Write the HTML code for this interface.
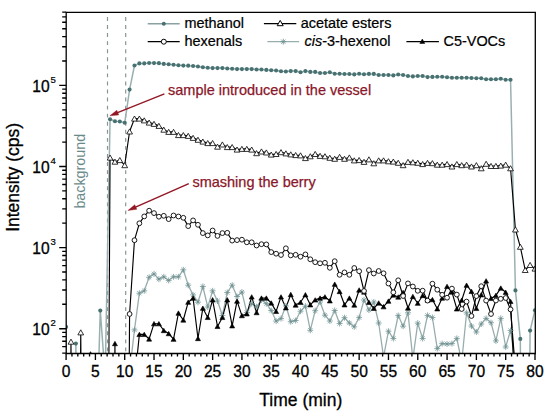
<!DOCTYPE html>
<html><head><meta charset="utf-8"><style>
html,body{margin:0;padding:0;background:#fff;}
body{width:550px;height:414px;overflow:hidden;font-family:"Liberation Sans", sans-serif;}
svg{display:block;}
</style></head><body>
<svg width="550" height="414" viewBox="0 0 550 414">
<defs><clipPath id="pc"><rect x="66.2" y="12.3" width="468.8" height="341.2"/></clipPath></defs>
<g clip-path="url(#pc)"><line x1="107.5" y1="17.0" x2="107.5" y2="353.5" stroke="#8a9494" stroke-width="1.2" stroke-dasharray="3.9 4.16"/>
<line x1="125.7" y1="17.0" x2="125.7" y2="353.5" stroke="#8a9494" stroke-width="1.2" stroke-dasharray="3.9 4.16"/>
<polyline points="66.10,326.90 70.98,1000.00 75.87,343.60 80.75,1000.00 85.64,1000.00 90.52,1000.00 95.40,476.00 100.29,310.60 105.17,376.70 110.06,119.30 114.94,121.20 119.82,121.50 124.71,122.80 129.59,89.60 134.48,65.50 139.36,63.40 144.24,63.40 149.13,63.05 154.01,63.10 158.90,63.15 163.78,63.90 168.66,64.25 173.55,64.80 178.43,65.25 183.32,65.60 188.20,65.65 193.08,66.00 197.97,66.45 202.85,67.20 207.74,67.80 212.62,68.10 217.50,68.10 222.39,68.10 227.27,68.50 232.16,68.80 237.04,69.10 241.92,69.10 246.81,69.10 251.69,69.10 256.58,69.50 261.46,69.50 266.34,69.90 271.23,70.20 276.11,70.50 281.00,71.20 285.88,71.50 290.76,71.10 295.65,71.10 300.53,72.20 305.42,71.10 310.30,71.90 315.18,71.90 320.07,73.00 324.95,73.00 329.84,72.20 334.72,73.70 339.60,73.70 344.49,74.00 349.37,74.00 354.26,74.40 359.14,73.80 364.02,74.20 368.91,73.90 373.79,73.90 378.68,75.00 383.56,75.00 388.44,75.00 393.33,75.40 398.21,74.50 403.10,75.00 407.98,76.00 412.86,76.40 417.75,76.00 422.63,76.00 427.52,77.10 432.40,76.90 437.28,76.70 442.17,76.70 447.05,77.20 451.94,77.70 456.82,77.70 461.70,77.70 466.59,77.70 471.47,78.00 476.36,78.30 481.24,78.30 486.12,79.20 491.01,79.20 495.89,79.20 500.78,78.70 505.66,79.80 510.54,79.80 515.43,290.40 520.31,338.90 525.20,1000.00 530.08,330.60 534.96,310.20" fill="none" stroke="#9ab0b0" stroke-width="1.5" stroke-linejoin="round"/>
<polyline points="129.59,372.00 134.48,329.90 139.36,293.20 144.24,290.80 149.13,277.30 154.01,273.90 158.90,279.20 163.78,276.80 168.66,280.40 173.55,276.80 178.43,276.80 183.32,269.80 188.20,285.20 193.08,294.90 197.97,302.20 202.85,286.50 207.74,307.00 212.62,290.80 217.50,301.00 222.39,315.50 227.27,292.50 232.16,285.20 237.04,296.50 241.92,292.10 246.81,312.60 251.69,303.60 256.58,306.80 261.46,299.90 266.34,303.60 271.23,310.50 276.11,321.10 281.00,318.60 285.88,306.00 290.76,321.70 295.65,320.50 300.53,311.20 305.42,306.20 310.30,330.30 315.18,310.70 320.07,302.00 324.95,315.20 329.84,321.00 334.72,310.50 339.60,323.50 344.49,317.70 349.37,323.00 354.26,326.80 359.14,317.60 364.02,300.00 368.91,310.00 373.79,302.00 378.68,323.00 383.56,357.00 388.44,331.20 393.33,338.50 398.21,315.50 403.10,326.20 407.98,312.80 412.86,359.00 417.75,323.20 422.63,338.50 427.52,315.40 432.40,317.50 437.28,348.60 442.17,343.60 447.05,344.00 451.94,343.60 456.82,338.40 461.70,362.00 466.59,312.80 471.47,326.00 476.36,332.00 481.24,324.00 486.12,318.40 491.01,322.70 495.89,340.90 500.78,318.40 505.66,347.00 510.54,330.50 515.43,365.00" fill="none" stroke="#98adad" stroke-width="1.3" stroke-linejoin="round"/>
<polyline points="85.64,1000.00 90.52,355.50 95.40,1000.00" fill="none" stroke="#000" stroke-width="1.15" stroke-linejoin="round"/>
<polyline points="110.06,1000.00 114.94,343.60 119.82,1000.00" fill="none" stroke="#000" stroke-width="1.15" stroke-linejoin="round"/>
<polyline points="134.48,383.00 139.36,334.40 144.24,334.40 149.13,339.00 154.01,323.70 158.90,323.70 163.78,330.50 168.66,333.60 173.55,339.20 178.43,313.10 183.32,320.00 188.20,302.20 193.08,298.10 197.97,338.50 202.85,308.20 207.74,317.40 212.62,299.80 217.50,326.40 222.39,317.40 227.27,299.80 232.16,325.80 237.04,301.10 241.92,315.60 246.81,313.80 251.69,296.90 256.58,312.60 261.46,298.10 266.34,298.10 271.23,303.00 276.11,311.40 281.00,296.90 285.88,307.80 290.76,294.50 295.65,305.00 300.53,302.30 305.42,294.80 310.30,304.80 315.18,299.90 320.07,298.10 324.95,296.90 329.84,300.80 334.72,284.20 339.60,291.50 344.49,304.80 349.37,298.10 354.26,305.00 359.14,290.00 364.02,292.00 368.91,302.30 373.79,308.30 378.68,303.00 383.56,306.70 388.44,301.10 393.33,295.00 398.21,297.00 403.10,292.50 407.98,308.00 412.86,296.50 417.75,303.20 422.63,295.50 427.52,300.00 432.40,299.60 437.28,308.80 442.17,298.10 447.05,286.40 451.94,292.00 456.82,308.90 461.70,300.20 466.59,285.20 471.47,291.40 476.36,308.40 481.24,294.80 486.12,280.90 491.01,298.40 495.89,295.40 500.78,288.10 505.66,292.30 510.54,301.40 515.43,400.00" fill="none" stroke="#000" stroke-width="1.15" stroke-linejoin="round"/>
<polyline points="66.10,1000.00 70.98,341.70 75.87,1000.00 80.75,332.40 85.64,1000.00 90.52,1000.00 95.40,1000.00 100.29,1000.00 105.17,1000.00 110.06,157.60 114.94,161.70 119.82,160.10 124.71,165.20 129.59,131.50 134.48,118.60 139.36,118.60 144.24,120.40 149.13,122.60 154.01,123.90 158.90,125.90 163.78,129.70 168.66,131.90 173.55,131.90 178.43,135.10 183.32,135.10 188.20,135.90 193.08,137.90 197.97,139.80 202.85,141.60 207.74,143.10 212.62,143.10 217.50,146.70 222.39,144.50 227.27,147.10 232.16,147.10 237.04,149.60 241.92,148.90 246.81,148.90 251.69,149.60 256.58,153.20 261.46,151.50 266.34,152.50 271.23,154.60 276.11,154.00 281.00,152.20 285.88,153.40 290.76,154.40 295.65,155.10 300.53,155.40 305.42,158.10 310.30,156.30 315.18,154.00 320.07,155.90 324.95,156.30 329.84,157.80 334.72,158.80 339.60,156.90 344.49,158.80 349.37,157.50 354.26,160.40 359.14,160.10 364.02,161.90 368.91,159.40 373.79,163.30 378.68,160.40 383.56,160.40 388.44,161.30 393.33,161.60 398.21,162.80 403.10,165.20 407.98,161.90 412.86,162.30 417.75,162.80 422.63,164.10 427.52,162.90 432.40,163.20 437.28,164.70 442.17,164.70 447.05,164.10 451.94,166.50 456.82,164.10 461.70,165.20 466.59,164.70 471.47,166.50 476.36,165.20 481.24,168.30 486.12,163.80 491.01,166.00 495.89,166.00 500.78,165.60 505.66,164.70 510.54,168.30 515.43,229.50 520.31,246.80 525.20,270.00 530.08,265.00 534.96,268.60" fill="none" stroke="#000" stroke-width="1.15" stroke-linejoin="round"/>
<polyline points="124.71,1000.00 129.59,314.00 134.48,240.20 139.36,223.30 144.24,216.40 149.13,210.70 154.01,213.10 158.90,216.70 163.78,215.80 168.66,219.10 173.55,215.50 178.43,216.50 183.32,217.80 188.20,226.10 193.08,220.40 197.97,224.80 202.85,233.10 207.74,235.40 212.62,230.50 217.50,235.90 222.39,233.10 227.27,232.80 232.16,240.60 237.04,240.10 241.92,239.70 246.81,242.30 251.69,242.30 256.58,245.50 261.46,244.20 266.34,244.40 271.23,252.10 276.11,253.70 281.00,255.00 285.88,248.30 290.76,255.40 295.65,254.80 300.53,256.70 305.42,254.40 310.30,259.30 315.18,262.20 320.07,263.30 324.95,262.80 329.84,267.80 334.72,261.20 339.60,274.80 344.49,272.40 349.37,274.80 354.26,268.00 359.14,271.20 364.02,291.00 368.91,270.10 373.79,273.50 378.68,271.00 383.56,273.30 388.44,283.50 393.33,292.30 398.21,280.30 403.10,296.00 407.98,283.40 412.86,286.50 417.75,290.80 422.63,290.70 427.52,300.60 432.40,283.70 437.28,289.70 442.17,294.80 447.05,297.70 451.94,288.60 456.82,294.60 461.70,309.00 466.59,301.60 471.47,316.00 476.36,296.10 481.24,286.20 486.12,300.60 491.01,314.00 495.89,300.50 500.78,298.80 505.66,298.00 510.54,309.40 515.43,370.00" fill="none" stroke="#000" stroke-width="1.15" stroke-linejoin="round"/>
<path d="M90.52,351.66L93.02,356.06L88.02,356.06Z" fill="#000" stroke="#000" stroke-width="0.6" stroke-linejoin="miter"/>
<circle cx="66.10" cy="326.90" r="2.05" fill="#487272"/>
<circle cx="75.87" cy="343.60" r="2.05" fill="#487272"/>
<circle cx="100.29" cy="310.60" r="2.05" fill="#487272"/>
<circle cx="110.06" cy="119.30" r="2.05" fill="#487272"/>
<circle cx="114.94" cy="121.20" r="2.05" fill="#487272"/>
<circle cx="119.82" cy="121.50" r="2.05" fill="#487272"/>
<circle cx="124.71" cy="122.80" r="2.05" fill="#487272"/>
<circle cx="129.59" cy="89.60" r="2.05" fill="#487272"/>
<circle cx="134.48" cy="65.50" r="2.05" fill="#487272"/>
<circle cx="139.36" cy="63.40" r="2.05" fill="#487272"/>
<circle cx="144.24" cy="63.40" r="2.05" fill="#487272"/>
<circle cx="149.13" cy="63.05" r="2.05" fill="#487272"/>
<circle cx="154.01" cy="63.10" r="2.05" fill="#487272"/>
<circle cx="158.90" cy="63.15" r="2.05" fill="#487272"/>
<circle cx="163.78" cy="63.90" r="2.05" fill="#487272"/>
<circle cx="168.66" cy="64.25" r="2.05" fill="#487272"/>
<circle cx="173.55" cy="64.80" r="2.05" fill="#487272"/>
<circle cx="178.43" cy="65.25" r="2.05" fill="#487272"/>
<circle cx="183.32" cy="65.60" r="2.05" fill="#487272"/>
<circle cx="188.20" cy="65.65" r="2.05" fill="#487272"/>
<circle cx="193.08" cy="66.00" r="2.05" fill="#487272"/>
<circle cx="197.97" cy="66.45" r="2.05" fill="#487272"/>
<circle cx="202.85" cy="67.20" r="2.05" fill="#487272"/>
<circle cx="207.74" cy="67.80" r="2.05" fill="#487272"/>
<circle cx="212.62" cy="68.10" r="2.05" fill="#487272"/>
<circle cx="217.50" cy="68.10" r="2.05" fill="#487272"/>
<circle cx="222.39" cy="68.10" r="2.05" fill="#487272"/>
<circle cx="227.27" cy="68.50" r="2.05" fill="#487272"/>
<circle cx="232.16" cy="68.80" r="2.05" fill="#487272"/>
<circle cx="237.04" cy="69.10" r="2.05" fill="#487272"/>
<circle cx="241.92" cy="69.10" r="2.05" fill="#487272"/>
<circle cx="246.81" cy="69.10" r="2.05" fill="#487272"/>
<circle cx="251.69" cy="69.10" r="2.05" fill="#487272"/>
<circle cx="256.58" cy="69.50" r="2.05" fill="#487272"/>
<circle cx="261.46" cy="69.50" r="2.05" fill="#487272"/>
<circle cx="266.34" cy="69.90" r="2.05" fill="#487272"/>
<circle cx="271.23" cy="70.20" r="2.05" fill="#487272"/>
<circle cx="276.11" cy="70.50" r="2.05" fill="#487272"/>
<circle cx="281.00" cy="71.20" r="2.05" fill="#487272"/>
<circle cx="285.88" cy="71.50" r="2.05" fill="#487272"/>
<circle cx="290.76" cy="71.10" r="2.05" fill="#487272"/>
<circle cx="295.65" cy="71.10" r="2.05" fill="#487272"/>
<circle cx="300.53" cy="72.20" r="2.05" fill="#487272"/>
<circle cx="305.42" cy="71.10" r="2.05" fill="#487272"/>
<circle cx="310.30" cy="71.90" r="2.05" fill="#487272"/>
<circle cx="315.18" cy="71.90" r="2.05" fill="#487272"/>
<circle cx="320.07" cy="73.00" r="2.05" fill="#487272"/>
<circle cx="324.95" cy="73.00" r="2.05" fill="#487272"/>
<circle cx="329.84" cy="72.20" r="2.05" fill="#487272"/>
<circle cx="334.72" cy="73.70" r="2.05" fill="#487272"/>
<circle cx="339.60" cy="73.70" r="2.05" fill="#487272"/>
<circle cx="344.49" cy="74.00" r="2.05" fill="#487272"/>
<circle cx="349.37" cy="74.00" r="2.05" fill="#487272"/>
<circle cx="354.26" cy="74.40" r="2.05" fill="#487272"/>
<circle cx="359.14" cy="73.80" r="2.05" fill="#487272"/>
<circle cx="364.02" cy="74.20" r="2.05" fill="#487272"/>
<circle cx="368.91" cy="73.90" r="2.05" fill="#487272"/>
<circle cx="373.79" cy="73.90" r="2.05" fill="#487272"/>
<circle cx="378.68" cy="75.00" r="2.05" fill="#487272"/>
<circle cx="383.56" cy="75.00" r="2.05" fill="#487272"/>
<circle cx="388.44" cy="75.00" r="2.05" fill="#487272"/>
<circle cx="393.33" cy="75.40" r="2.05" fill="#487272"/>
<circle cx="398.21" cy="74.50" r="2.05" fill="#487272"/>
<circle cx="403.10" cy="75.00" r="2.05" fill="#487272"/>
<circle cx="407.98" cy="76.00" r="2.05" fill="#487272"/>
<circle cx="412.86" cy="76.40" r="2.05" fill="#487272"/>
<circle cx="417.75" cy="76.00" r="2.05" fill="#487272"/>
<circle cx="422.63" cy="76.00" r="2.05" fill="#487272"/>
<circle cx="427.52" cy="77.10" r="2.05" fill="#487272"/>
<circle cx="432.40" cy="76.90" r="2.05" fill="#487272"/>
<circle cx="437.28" cy="76.70" r="2.05" fill="#487272"/>
<circle cx="442.17" cy="76.70" r="2.05" fill="#487272"/>
<circle cx="447.05" cy="77.20" r="2.05" fill="#487272"/>
<circle cx="451.94" cy="77.70" r="2.05" fill="#487272"/>
<circle cx="456.82" cy="77.70" r="2.05" fill="#487272"/>
<circle cx="461.70" cy="77.70" r="2.05" fill="#487272"/>
<circle cx="466.59" cy="77.70" r="2.05" fill="#487272"/>
<circle cx="471.47" cy="78.00" r="2.05" fill="#487272"/>
<circle cx="476.36" cy="78.30" r="2.05" fill="#487272"/>
<circle cx="481.24" cy="78.30" r="2.05" fill="#487272"/>
<circle cx="486.12" cy="79.20" r="2.05" fill="#487272"/>
<circle cx="491.01" cy="79.20" r="2.05" fill="#487272"/>
<circle cx="495.89" cy="79.20" r="2.05" fill="#487272"/>
<circle cx="500.78" cy="78.70" r="2.05" fill="#487272"/>
<circle cx="505.66" cy="79.80" r="2.05" fill="#487272"/>
<circle cx="510.54" cy="79.80" r="2.05" fill="#487272"/>
<circle cx="515.43" cy="290.40" r="2.05" fill="#487272"/>
<circle cx="520.31" cy="338.90" r="2.05" fill="#487272"/>
<circle cx="530.08" cy="330.60" r="2.05" fill="#487272"/>
<circle cx="534.96" cy="310.20" r="2.05" fill="#487272"/>
<path d="M131.48,329.90L137.48,329.90M132.35,327.78L136.60,332.02M134.48,326.90L134.48,332.90M136.60,327.78L132.35,332.02" stroke="#6e9090" stroke-width="0.75" fill="none"/>
<path d="M136.36,293.20L142.36,293.20M137.24,291.08L141.48,295.32M139.36,290.20L139.36,296.20M141.48,291.08L137.24,295.32" stroke="#6e9090" stroke-width="0.75" fill="none"/>
<path d="M141.24,290.80L147.24,290.80M142.12,288.68L146.37,292.92M144.24,287.80L144.24,293.80M146.37,288.68L142.12,292.92" stroke="#6e9090" stroke-width="0.75" fill="none"/>
<path d="M146.13,277.30L152.13,277.30M147.01,275.18L151.25,279.42M149.13,274.30L149.13,280.30M151.25,275.18L147.01,279.42" stroke="#6e9090" stroke-width="0.75" fill="none"/>
<path d="M151.01,273.90L157.01,273.90M151.89,271.78L156.13,276.02M154.01,270.90L154.01,276.90M156.13,271.78L151.89,276.02" stroke="#6e9090" stroke-width="0.75" fill="none"/>
<path d="M155.90,279.20L161.90,279.20M156.77,277.08L161.02,281.32M158.90,276.20L158.90,282.20M161.02,277.08L156.77,281.32" stroke="#6e9090" stroke-width="0.75" fill="none"/>
<path d="M160.78,276.80L166.78,276.80M161.66,274.68L165.90,278.92M163.78,273.80L163.78,279.80M165.90,274.68L161.66,278.92" stroke="#6e9090" stroke-width="0.75" fill="none"/>
<path d="M165.66,280.40L171.66,280.40M166.54,278.28L170.79,282.52M168.66,277.40L168.66,283.40M170.79,278.28L166.54,282.52" stroke="#6e9090" stroke-width="0.75" fill="none"/>
<path d="M170.55,276.80L176.55,276.80M171.43,274.68L175.67,278.92M173.55,273.80L173.55,279.80M175.67,274.68L171.43,278.92" stroke="#6e9090" stroke-width="0.75" fill="none"/>
<path d="M175.43,276.80L181.43,276.80M176.31,274.68L180.55,278.92M178.43,273.80L178.43,279.80M180.55,274.68L176.31,278.92" stroke="#6e9090" stroke-width="0.75" fill="none"/>
<path d="M180.32,269.80L186.32,269.80M181.19,267.68L185.44,271.92M183.32,266.80L183.32,272.80M185.44,267.68L181.19,271.92" stroke="#6e9090" stroke-width="0.75" fill="none"/>
<path d="M185.20,285.20L191.20,285.20M186.08,283.08L190.32,287.32M188.20,282.20L188.20,288.20M190.32,283.08L186.08,287.32" stroke="#6e9090" stroke-width="0.75" fill="none"/>
<path d="M190.08,294.90L196.08,294.90M190.96,292.78L195.21,297.02M193.08,291.90L193.08,297.90M195.21,292.78L190.96,297.02" stroke="#6e9090" stroke-width="0.75" fill="none"/>
<path d="M194.97,302.20L200.97,302.20M195.85,300.08L200.09,304.32M197.97,299.20L197.97,305.20M200.09,300.08L195.85,304.32" stroke="#6e9090" stroke-width="0.75" fill="none"/>
<path d="M199.85,286.50L205.85,286.50M200.73,284.38L204.97,288.62M202.85,283.50L202.85,289.50M204.97,284.38L200.73,288.62" stroke="#6e9090" stroke-width="0.75" fill="none"/>
<path d="M204.74,307.00L210.74,307.00M205.61,304.88L209.86,309.12M207.74,304.00L207.74,310.00M209.86,304.88L205.61,309.12" stroke="#6e9090" stroke-width="0.75" fill="none"/>
<path d="M209.62,290.80L215.62,290.80M210.50,288.68L214.74,292.92M212.62,287.80L212.62,293.80M214.74,288.68L210.50,292.92" stroke="#6e9090" stroke-width="0.75" fill="none"/>
<path d="M214.50,301.00L220.50,301.00M215.38,298.88L219.63,303.12M217.50,298.00L217.50,304.00M219.63,298.88L215.38,303.12" stroke="#6e9090" stroke-width="0.75" fill="none"/>
<path d="M219.39,315.50L225.39,315.50M220.27,313.38L224.51,317.62M222.39,312.50L222.39,318.50M224.51,313.38L220.27,317.62" stroke="#6e9090" stroke-width="0.75" fill="none"/>
<path d="M224.27,292.50L230.27,292.50M225.15,290.38L229.39,294.62M227.27,289.50L227.27,295.50M229.39,290.38L225.15,294.62" stroke="#6e9090" stroke-width="0.75" fill="none"/>
<path d="M229.16,285.20L235.16,285.20M230.03,283.08L234.28,287.32M232.16,282.20L232.16,288.20M234.28,283.08L230.03,287.32" stroke="#6e9090" stroke-width="0.75" fill="none"/>
<path d="M234.04,296.50L240.04,296.50M234.92,294.38L239.16,298.62M237.04,293.50L237.04,299.50M239.16,294.38L234.92,298.62" stroke="#6e9090" stroke-width="0.75" fill="none"/>
<path d="M238.92,292.10L244.92,292.10M239.80,289.98L244.05,294.22M241.92,289.10L241.92,295.10M244.05,289.98L239.80,294.22" stroke="#6e9090" stroke-width="0.75" fill="none"/>
<path d="M243.81,312.60L249.81,312.60M244.69,310.48L248.93,314.72M246.81,309.60L246.81,315.60M248.93,310.48L244.69,314.72" stroke="#6e9090" stroke-width="0.75" fill="none"/>
<path d="M248.69,303.60L254.69,303.60M249.57,301.48L253.81,305.72M251.69,300.60L251.69,306.60M253.81,301.48L249.57,305.72" stroke="#6e9090" stroke-width="0.75" fill="none"/>
<path d="M253.58,306.80L259.58,306.80M254.45,304.68L258.70,308.92M256.58,303.80L256.58,309.80M258.70,304.68L254.45,308.92" stroke="#6e9090" stroke-width="0.75" fill="none"/>
<path d="M258.46,299.90L264.46,299.90M259.34,297.78L263.58,302.02M261.46,296.90L261.46,302.90M263.58,297.78L259.34,302.02" stroke="#6e9090" stroke-width="0.75" fill="none"/>
<path d="M263.34,303.60L269.34,303.60M264.22,301.48L268.47,305.72M266.34,300.60L266.34,306.60M268.47,301.48L264.22,305.72" stroke="#6e9090" stroke-width="0.75" fill="none"/>
<path d="M268.23,310.50L274.23,310.50M269.11,308.38L273.35,312.62M271.23,307.50L271.23,313.50M273.35,308.38L269.11,312.62" stroke="#6e9090" stroke-width="0.75" fill="none"/>
<path d="M273.11,321.10L279.11,321.10M273.99,318.98L278.23,323.22M276.11,318.10L276.11,324.10M278.23,318.98L273.99,323.22" stroke="#6e9090" stroke-width="0.75" fill="none"/>
<path d="M278.00,318.60L284.00,318.60M278.87,316.48L283.12,320.72M281.00,315.60L281.00,321.60M283.12,316.48L278.87,320.72" stroke="#6e9090" stroke-width="0.75" fill="none"/>
<path d="M282.88,306.00L288.88,306.00M283.76,303.88L288.00,308.12M285.88,303.00L285.88,309.00M288.00,303.88L283.76,308.12" stroke="#6e9090" stroke-width="0.75" fill="none"/>
<path d="M287.76,321.70L293.76,321.70M288.64,319.58L292.89,323.82M290.76,318.70L290.76,324.70M292.89,319.58L288.64,323.82" stroke="#6e9090" stroke-width="0.75" fill="none"/>
<path d="M292.65,320.50L298.65,320.50M293.53,318.38L297.77,322.62M295.65,317.50L295.65,323.50M297.77,318.38L293.53,322.62" stroke="#6e9090" stroke-width="0.75" fill="none"/>
<path d="M297.53,311.20L303.53,311.20M298.41,309.08L302.65,313.32M300.53,308.20L300.53,314.20M302.65,309.08L298.41,313.32" stroke="#6e9090" stroke-width="0.75" fill="none"/>
<path d="M302.42,306.20L308.42,306.20M303.29,304.08L307.54,308.32M305.42,303.20L305.42,309.20M307.54,304.08L303.29,308.32" stroke="#6e9090" stroke-width="0.75" fill="none"/>
<path d="M307.30,330.30L313.30,330.30M308.18,328.18L312.42,332.42M310.30,327.30L310.30,333.30M312.42,328.18L308.18,332.42" stroke="#6e9090" stroke-width="0.75" fill="none"/>
<path d="M312.18,310.70L318.18,310.70M313.06,308.58L317.31,312.82M315.18,307.70L315.18,313.70M317.31,308.58L313.06,312.82" stroke="#6e9090" stroke-width="0.75" fill="none"/>
<path d="M317.07,302.00L323.07,302.00M317.95,299.88L322.19,304.12M320.07,299.00L320.07,305.00M322.19,299.88L317.95,304.12" stroke="#6e9090" stroke-width="0.75" fill="none"/>
<path d="M321.95,315.20L327.95,315.20M322.83,313.08L327.07,317.32M324.95,312.20L324.95,318.20M327.07,313.08L322.83,317.32" stroke="#6e9090" stroke-width="0.75" fill="none"/>
<path d="M326.84,321.00L332.84,321.00M327.71,318.88L331.96,323.12M329.84,318.00L329.84,324.00M331.96,318.88L327.71,323.12" stroke="#6e9090" stroke-width="0.75" fill="none"/>
<path d="M331.72,310.50L337.72,310.50M332.60,308.38L336.84,312.62M334.72,307.50L334.72,313.50M336.84,308.38L332.60,312.62" stroke="#6e9090" stroke-width="0.75" fill="none"/>
<path d="M336.60,323.50L342.60,323.50M337.48,321.38L341.73,325.62M339.60,320.50L339.60,326.50M341.73,321.38L337.48,325.62" stroke="#6e9090" stroke-width="0.75" fill="none"/>
<path d="M341.49,317.70L347.49,317.70M342.37,315.58L346.61,319.82M344.49,314.70L344.49,320.70M346.61,315.58L342.37,319.82" stroke="#6e9090" stroke-width="0.75" fill="none"/>
<path d="M346.37,323.00L352.37,323.00M347.25,320.88L351.49,325.12M349.37,320.00L349.37,326.00M351.49,320.88L347.25,325.12" stroke="#6e9090" stroke-width="0.75" fill="none"/>
<path d="M351.26,326.80L357.26,326.80M352.13,324.68L356.38,328.92M354.26,323.80L354.26,329.80M356.38,324.68L352.13,328.92" stroke="#6e9090" stroke-width="0.75" fill="none"/>
<path d="M356.14,317.60L362.14,317.60M357.02,315.48L361.26,319.72M359.14,314.60L359.14,320.60M361.26,315.48L357.02,319.72" stroke="#6e9090" stroke-width="0.75" fill="none"/>
<path d="M361.02,300.00L367.02,300.00M361.90,297.88L366.15,302.12M364.02,297.00L364.02,303.00M366.15,297.88L361.90,302.12" stroke="#6e9090" stroke-width="0.75" fill="none"/>
<path d="M365.91,310.00L371.91,310.00M366.79,307.88L371.03,312.12M368.91,307.00L368.91,313.00M371.03,307.88L366.79,312.12" stroke="#6e9090" stroke-width="0.75" fill="none"/>
<path d="M370.79,302.00L376.79,302.00M371.67,299.88L375.91,304.12M373.79,299.00L373.79,305.00M375.91,299.88L371.67,304.12" stroke="#6e9090" stroke-width="0.75" fill="none"/>
<path d="M375.68,323.00L381.68,323.00M376.55,320.88L380.80,325.12M378.68,320.00L378.68,326.00M380.80,320.88L376.55,325.12" stroke="#6e9090" stroke-width="0.75" fill="none"/>
<path d="M380.56,357.00L386.56,357.00M381.44,354.88L385.68,359.12M383.56,354.00L383.56,360.00M385.68,354.88L381.44,359.12" stroke="#6e9090" stroke-width="0.75" fill="none"/>
<path d="M385.44,331.20L391.44,331.20M386.32,329.08L390.57,333.32M388.44,328.20L388.44,334.20M390.57,329.08L386.32,333.32" stroke="#6e9090" stroke-width="0.75" fill="none"/>
<path d="M390.33,338.50L396.33,338.50M391.21,336.38L395.45,340.62M393.33,335.50L393.33,341.50M395.45,336.38L391.21,340.62" stroke="#6e9090" stroke-width="0.75" fill="none"/>
<path d="M395.21,315.50L401.21,315.50M396.09,313.38L400.33,317.62M398.21,312.50L398.21,318.50M400.33,313.38L396.09,317.62" stroke="#6e9090" stroke-width="0.75" fill="none"/>
<path d="M400.10,326.20L406.10,326.20M400.97,324.08L405.22,328.32M403.10,323.20L403.10,329.20M405.22,324.08L400.97,328.32" stroke="#6e9090" stroke-width="0.75" fill="none"/>
<path d="M404.98,312.80L410.98,312.80M405.86,310.68L410.10,314.92M407.98,309.80L407.98,315.80M410.10,310.68L405.86,314.92" stroke="#6e9090" stroke-width="0.75" fill="none"/>
<path d="M414.75,323.20L420.75,323.20M415.63,321.08L419.87,325.32M417.75,320.20L417.75,326.20M419.87,321.08L415.63,325.32" stroke="#6e9090" stroke-width="0.75" fill="none"/>
<path d="M419.63,338.50L425.63,338.50M420.51,336.38L424.75,340.62M422.63,335.50L422.63,341.50M424.75,336.38L420.51,340.62" stroke="#6e9090" stroke-width="0.75" fill="none"/>
<path d="M424.52,315.40L430.52,315.40M425.39,313.28L429.64,317.52M427.52,312.40L427.52,318.40M429.64,313.28L425.39,317.52" stroke="#6e9090" stroke-width="0.75" fill="none"/>
<path d="M429.40,317.50L435.40,317.50M430.28,315.38L434.52,319.62M432.40,314.50L432.40,320.50M434.52,315.38L430.28,319.62" stroke="#6e9090" stroke-width="0.75" fill="none"/>
<path d="M434.28,348.60L440.28,348.60M435.16,346.48L439.41,350.72M437.28,345.60L437.28,351.60M439.41,346.48L435.16,350.72" stroke="#6e9090" stroke-width="0.75" fill="none"/>
<path d="M439.17,343.60L445.17,343.60M440.05,341.48L444.29,345.72M442.17,340.60L442.17,346.60M444.29,341.48L440.05,345.72" stroke="#6e9090" stroke-width="0.75" fill="none"/>
<path d="M444.05,344.00L450.05,344.00M444.93,341.88L449.17,346.12M447.05,341.00L447.05,347.00M449.17,341.88L444.93,346.12" stroke="#6e9090" stroke-width="0.75" fill="none"/>
<path d="M448.94,343.60L454.94,343.60M449.81,341.48L454.06,345.72M451.94,340.60L451.94,346.60M454.06,341.48L449.81,345.72" stroke="#6e9090" stroke-width="0.75" fill="none"/>
<path d="M453.82,338.40L459.82,338.40M454.70,336.28L458.94,340.52M456.82,335.40L456.82,341.40M458.94,336.28L454.70,340.52" stroke="#6e9090" stroke-width="0.75" fill="none"/>
<path d="M463.59,312.80L469.59,312.80M464.47,310.68L468.71,314.92M466.59,309.80L466.59,315.80M468.71,310.68L464.47,314.92" stroke="#6e9090" stroke-width="0.75" fill="none"/>
<path d="M468.47,326.00L474.47,326.00M469.35,323.88L473.59,328.12M471.47,323.00L471.47,329.00M473.59,323.88L469.35,328.12" stroke="#6e9090" stroke-width="0.75" fill="none"/>
<path d="M473.36,332.00L479.36,332.00M474.23,329.88L478.48,334.12M476.36,329.00L476.36,335.00M478.48,329.88L474.23,334.12" stroke="#6e9090" stroke-width="0.75" fill="none"/>
<path d="M478.24,324.00L484.24,324.00M479.12,321.88L483.36,326.12M481.24,321.00L481.24,327.00M483.36,321.88L479.12,326.12" stroke="#6e9090" stroke-width="0.75" fill="none"/>
<path d="M483.12,318.40L489.12,318.40M484.00,316.28L488.25,320.52M486.12,315.40L486.12,321.40M488.25,316.28L484.00,320.52" stroke="#6e9090" stroke-width="0.75" fill="none"/>
<path d="M488.01,322.70L494.01,322.70M488.89,320.58L493.13,324.82M491.01,319.70L491.01,325.70M493.13,320.58L488.89,324.82" stroke="#6e9090" stroke-width="0.75" fill="none"/>
<path d="M492.89,340.90L498.89,340.90M493.77,338.78L498.01,343.02M495.89,337.90L495.89,343.90M498.01,338.78L493.77,343.02" stroke="#6e9090" stroke-width="0.75" fill="none"/>
<path d="M497.78,318.40L503.78,318.40M498.65,316.28L502.90,320.52M500.78,315.40L500.78,321.40M502.90,316.28L498.65,320.52" stroke="#6e9090" stroke-width="0.75" fill="none"/>
<path d="M502.66,347.00L508.66,347.00M503.54,344.88L507.78,349.12M505.66,344.00L505.66,350.00M507.78,344.88L503.54,349.12" stroke="#6e9090" stroke-width="0.75" fill="none"/>
<path d="M507.54,330.50L513.54,330.50M508.42,328.38L512.67,332.62M510.54,327.50L510.54,333.50M512.67,328.38L508.42,332.62" stroke="#6e9090" stroke-width="0.75" fill="none"/>
<path d="M114.94,341.36L117.44,345.76L112.44,345.76Z" fill="#000" stroke="#000" stroke-width="0.6" stroke-linejoin="miter"/>
<path d="M139.36,332.16L141.86,336.56L136.86,336.56Z" fill="#000" stroke="#000" stroke-width="0.6" stroke-linejoin="miter"/>
<path d="M144.24,332.16L146.74,336.56L141.74,336.56Z" fill="#000" stroke="#000" stroke-width="0.6" stroke-linejoin="miter"/>
<path d="M149.13,336.76L151.63,341.16L146.63,341.16Z" fill="#000" stroke="#000" stroke-width="0.6" stroke-linejoin="miter"/>
<path d="M154.01,321.46L156.51,325.86L151.51,325.86Z" fill="#000" stroke="#000" stroke-width="0.6" stroke-linejoin="miter"/>
<path d="M158.90,321.46L161.40,325.86L156.40,325.86Z" fill="#000" stroke="#000" stroke-width="0.6" stroke-linejoin="miter"/>
<path d="M163.78,328.26L166.28,332.66L161.28,332.66Z" fill="#000" stroke="#000" stroke-width="0.6" stroke-linejoin="miter"/>
<path d="M168.66,331.36L171.16,335.76L166.16,335.76Z" fill="#000" stroke="#000" stroke-width="0.6" stroke-linejoin="miter"/>
<path d="M173.55,336.96L176.05,341.36L171.05,341.36Z" fill="#000" stroke="#000" stroke-width="0.6" stroke-linejoin="miter"/>
<path d="M178.43,310.86L180.93,315.26L175.93,315.26Z" fill="#000" stroke="#000" stroke-width="0.6" stroke-linejoin="miter"/>
<path d="M183.32,317.76L185.82,322.16L180.82,322.16Z" fill="#000" stroke="#000" stroke-width="0.6" stroke-linejoin="miter"/>
<path d="M188.20,299.96L190.70,304.36L185.70,304.36Z" fill="#000" stroke="#000" stroke-width="0.6" stroke-linejoin="miter"/>
<path d="M193.08,295.86L195.58,300.26L190.58,300.26Z" fill="#000" stroke="#000" stroke-width="0.6" stroke-linejoin="miter"/>
<path d="M197.97,336.26L200.47,340.66L195.47,340.66Z" fill="#000" stroke="#000" stroke-width="0.6" stroke-linejoin="miter"/>
<path d="M202.85,305.96L205.35,310.36L200.35,310.36Z" fill="#000" stroke="#000" stroke-width="0.6" stroke-linejoin="miter"/>
<path d="M207.74,315.16L210.24,319.56L205.24,319.56Z" fill="#000" stroke="#000" stroke-width="0.6" stroke-linejoin="miter"/>
<path d="M212.62,297.56L215.12,301.96L210.12,301.96Z" fill="#000" stroke="#000" stroke-width="0.6" stroke-linejoin="miter"/>
<path d="M217.50,324.16L220.00,328.56L215.00,328.56Z" fill="#000" stroke="#000" stroke-width="0.6" stroke-linejoin="miter"/>
<path d="M222.39,315.16L224.89,319.56L219.89,319.56Z" fill="#000" stroke="#000" stroke-width="0.6" stroke-linejoin="miter"/>
<path d="M227.27,297.56L229.77,301.96L224.77,301.96Z" fill="#000" stroke="#000" stroke-width="0.6" stroke-linejoin="miter"/>
<path d="M232.16,323.56L234.66,327.96L229.66,327.96Z" fill="#000" stroke="#000" stroke-width="0.6" stroke-linejoin="miter"/>
<path d="M237.04,298.86L239.54,303.26L234.54,303.26Z" fill="#000" stroke="#000" stroke-width="0.6" stroke-linejoin="miter"/>
<path d="M241.92,313.36L244.42,317.76L239.42,317.76Z" fill="#000" stroke="#000" stroke-width="0.6" stroke-linejoin="miter"/>
<path d="M246.81,311.56L249.31,315.96L244.31,315.96Z" fill="#000" stroke="#000" stroke-width="0.6" stroke-linejoin="miter"/>
<path d="M251.69,294.66L254.19,299.06L249.19,299.06Z" fill="#000" stroke="#000" stroke-width="0.6" stroke-linejoin="miter"/>
<path d="M256.58,310.36L259.08,314.76L254.08,314.76Z" fill="#000" stroke="#000" stroke-width="0.6" stroke-linejoin="miter"/>
<path d="M261.46,295.86L263.96,300.26L258.96,300.26Z" fill="#000" stroke="#000" stroke-width="0.6" stroke-linejoin="miter"/>
<path d="M266.34,295.86L268.84,300.26L263.84,300.26Z" fill="#000" stroke="#000" stroke-width="0.6" stroke-linejoin="miter"/>
<path d="M271.23,300.76L273.73,305.16L268.73,305.16Z" fill="#000" stroke="#000" stroke-width="0.6" stroke-linejoin="miter"/>
<path d="M276.11,309.16L278.61,313.56L273.61,313.56Z" fill="#000" stroke="#000" stroke-width="0.6" stroke-linejoin="miter"/>
<path d="M281.00,294.66L283.50,299.06L278.50,299.06Z" fill="#000" stroke="#000" stroke-width="0.6" stroke-linejoin="miter"/>
<path d="M285.88,305.56L288.38,309.96L283.38,309.96Z" fill="#000" stroke="#000" stroke-width="0.6" stroke-linejoin="miter"/>
<path d="M290.76,292.26L293.26,296.66L288.26,296.66Z" fill="#000" stroke="#000" stroke-width="0.6" stroke-linejoin="miter"/>
<path d="M295.65,302.76L298.15,307.16L293.15,307.16Z" fill="#000" stroke="#000" stroke-width="0.6" stroke-linejoin="miter"/>
<path d="M300.53,300.06L303.03,304.46L298.03,304.46Z" fill="#000" stroke="#000" stroke-width="0.6" stroke-linejoin="miter"/>
<path d="M305.42,292.56L307.92,296.96L302.92,296.96Z" fill="#000" stroke="#000" stroke-width="0.6" stroke-linejoin="miter"/>
<path d="M310.30,302.56L312.80,306.96L307.80,306.96Z" fill="#000" stroke="#000" stroke-width="0.6" stroke-linejoin="miter"/>
<path d="M315.18,297.66L317.68,302.06L312.68,302.06Z" fill="#000" stroke="#000" stroke-width="0.6" stroke-linejoin="miter"/>
<path d="M320.07,295.86L322.57,300.26L317.57,300.26Z" fill="#000" stroke="#000" stroke-width="0.6" stroke-linejoin="miter"/>
<path d="M324.95,294.66L327.45,299.06L322.45,299.06Z" fill="#000" stroke="#000" stroke-width="0.6" stroke-linejoin="miter"/>
<path d="M329.84,298.56L332.34,302.96L327.34,302.96Z" fill="#000" stroke="#000" stroke-width="0.6" stroke-linejoin="miter"/>
<path d="M334.72,281.96L337.22,286.36L332.22,286.36Z" fill="#000" stroke="#000" stroke-width="0.6" stroke-linejoin="miter"/>
<path d="M339.60,289.26L342.10,293.66L337.10,293.66Z" fill="#000" stroke="#000" stroke-width="0.6" stroke-linejoin="miter"/>
<path d="M344.49,302.56L346.99,306.96L341.99,306.96Z" fill="#000" stroke="#000" stroke-width="0.6" stroke-linejoin="miter"/>
<path d="M349.37,295.86L351.87,300.26L346.87,300.26Z" fill="#000" stroke="#000" stroke-width="0.6" stroke-linejoin="miter"/>
<path d="M354.26,302.76L356.76,307.16L351.76,307.16Z" fill="#000" stroke="#000" stroke-width="0.6" stroke-linejoin="miter"/>
<path d="M359.14,287.76L361.64,292.16L356.64,292.16Z" fill="#000" stroke="#000" stroke-width="0.6" stroke-linejoin="miter"/>
<path d="M364.02,289.76L366.52,294.16L361.52,294.16Z" fill="#000" stroke="#000" stroke-width="0.6" stroke-linejoin="miter"/>
<path d="M368.91,300.06L371.41,304.46L366.41,304.46Z" fill="#000" stroke="#000" stroke-width="0.6" stroke-linejoin="miter"/>
<path d="M373.79,306.06L376.29,310.46L371.29,310.46Z" fill="#000" stroke="#000" stroke-width="0.6" stroke-linejoin="miter"/>
<path d="M378.68,300.76L381.18,305.16L376.18,305.16Z" fill="#000" stroke="#000" stroke-width="0.6" stroke-linejoin="miter"/>
<path d="M383.56,304.46L386.06,308.86L381.06,308.86Z" fill="#000" stroke="#000" stroke-width="0.6" stroke-linejoin="miter"/>
<path d="M388.44,298.86L390.94,303.26L385.94,303.26Z" fill="#000" stroke="#000" stroke-width="0.6" stroke-linejoin="miter"/>
<path d="M393.33,292.76L395.83,297.16L390.83,297.16Z" fill="#000" stroke="#000" stroke-width="0.6" stroke-linejoin="miter"/>
<path d="M398.21,294.76L400.71,299.16L395.71,299.16Z" fill="#000" stroke="#000" stroke-width="0.6" stroke-linejoin="miter"/>
<path d="M403.10,290.26L405.60,294.66L400.60,294.66Z" fill="#000" stroke="#000" stroke-width="0.6" stroke-linejoin="miter"/>
<path d="M407.98,305.76L410.48,310.16L405.48,310.16Z" fill="#000" stroke="#000" stroke-width="0.6" stroke-linejoin="miter"/>
<path d="M412.86,294.26L415.36,298.66L410.36,298.66Z" fill="#000" stroke="#000" stroke-width="0.6" stroke-linejoin="miter"/>
<path d="M417.75,300.96L420.25,305.36L415.25,305.36Z" fill="#000" stroke="#000" stroke-width="0.6" stroke-linejoin="miter"/>
<path d="M422.63,293.26L425.13,297.66L420.13,297.66Z" fill="#000" stroke="#000" stroke-width="0.6" stroke-linejoin="miter"/>
<path d="M427.52,297.76L430.02,302.16L425.02,302.16Z" fill="#000" stroke="#000" stroke-width="0.6" stroke-linejoin="miter"/>
<path d="M432.40,297.36L434.90,301.76L429.90,301.76Z" fill="#000" stroke="#000" stroke-width="0.6" stroke-linejoin="miter"/>
<path d="M437.28,306.56L439.78,310.96L434.78,310.96Z" fill="#000" stroke="#000" stroke-width="0.6" stroke-linejoin="miter"/>
<path d="M442.17,295.86L444.67,300.26L439.67,300.26Z" fill="#000" stroke="#000" stroke-width="0.6" stroke-linejoin="miter"/>
<path d="M447.05,284.16L449.55,288.56L444.55,288.56Z" fill="#000" stroke="#000" stroke-width="0.6" stroke-linejoin="miter"/>
<path d="M451.94,289.76L454.44,294.16L449.44,294.16Z" fill="#000" stroke="#000" stroke-width="0.6" stroke-linejoin="miter"/>
<path d="M456.82,306.66L459.32,311.06L454.32,311.06Z" fill="#000" stroke="#000" stroke-width="0.6" stroke-linejoin="miter"/>
<path d="M461.70,297.96L464.20,302.36L459.20,302.36Z" fill="#000" stroke="#000" stroke-width="0.6" stroke-linejoin="miter"/>
<path d="M466.59,282.96L469.09,287.36L464.09,287.36Z" fill="#000" stroke="#000" stroke-width="0.6" stroke-linejoin="miter"/>
<path d="M471.47,289.16L473.97,293.56L468.97,293.56Z" fill="#000" stroke="#000" stroke-width="0.6" stroke-linejoin="miter"/>
<path d="M476.36,306.16L478.86,310.56L473.86,310.56Z" fill="#000" stroke="#000" stroke-width="0.6" stroke-linejoin="miter"/>
<path d="M481.24,292.56L483.74,296.96L478.74,296.96Z" fill="#000" stroke="#000" stroke-width="0.6" stroke-linejoin="miter"/>
<path d="M486.12,278.66L488.62,283.06L483.62,283.06Z" fill="#000" stroke="#000" stroke-width="0.6" stroke-linejoin="miter"/>
<path d="M491.01,296.16L493.51,300.56L488.51,300.56Z" fill="#000" stroke="#000" stroke-width="0.6" stroke-linejoin="miter"/>
<path d="M495.89,293.16L498.39,297.56L493.39,297.56Z" fill="#000" stroke="#000" stroke-width="0.6" stroke-linejoin="miter"/>
<path d="M500.78,285.86L503.28,290.26L498.28,290.26Z" fill="#000" stroke="#000" stroke-width="0.6" stroke-linejoin="miter"/>
<path d="M505.66,290.06L508.16,294.46L503.16,294.46Z" fill="#000" stroke="#000" stroke-width="0.6" stroke-linejoin="miter"/>
<path d="M510.54,299.16L513.04,303.56L508.04,303.56Z" fill="#000" stroke="#000" stroke-width="0.6" stroke-linejoin="miter"/>
<path d="M70.98,339.10L73.88,344.20L68.08,344.20Z" fill="#fff" stroke="#111" stroke-width="0.85" stroke-linejoin="miter"/>
<path d="M80.75,329.80L83.65,334.90L77.85,334.90Z" fill="#fff" stroke="#111" stroke-width="0.85" stroke-linejoin="miter"/>
<path d="M110.06,155.00L112.96,160.10L107.16,160.10Z" fill="#fff" stroke="#111" stroke-width="0.85" stroke-linejoin="miter"/>
<path d="M114.94,159.10L117.84,164.20L112.04,164.20Z" fill="#fff" stroke="#111" stroke-width="0.85" stroke-linejoin="miter"/>
<path d="M119.82,157.50L122.72,162.60L116.92,162.60Z" fill="#fff" stroke="#111" stroke-width="0.85" stroke-linejoin="miter"/>
<path d="M124.71,162.60L127.61,167.70L121.81,167.70Z" fill="#fff" stroke="#111" stroke-width="0.85" stroke-linejoin="miter"/>
<path d="M129.59,128.90L132.49,134.00L126.69,134.00Z" fill="#fff" stroke="#111" stroke-width="0.85" stroke-linejoin="miter"/>
<path d="M134.48,116.00L137.38,121.10L131.58,121.10Z" fill="#fff" stroke="#111" stroke-width="0.85" stroke-linejoin="miter"/>
<path d="M139.36,116.00L142.26,121.10L136.46,121.10Z" fill="#fff" stroke="#111" stroke-width="0.85" stroke-linejoin="miter"/>
<path d="M144.24,117.80L147.14,122.90L141.34,122.90Z" fill="#fff" stroke="#111" stroke-width="0.85" stroke-linejoin="miter"/>
<path d="M149.13,120.00L152.03,125.10L146.23,125.10Z" fill="#fff" stroke="#111" stroke-width="0.85" stroke-linejoin="miter"/>
<path d="M154.01,121.30L156.91,126.40L151.11,126.40Z" fill="#fff" stroke="#111" stroke-width="0.85" stroke-linejoin="miter"/>
<path d="M158.90,123.30L161.80,128.40L156.00,128.40Z" fill="#fff" stroke="#111" stroke-width="0.85" stroke-linejoin="miter"/>
<path d="M163.78,127.10L166.68,132.20L160.88,132.20Z" fill="#fff" stroke="#111" stroke-width="0.85" stroke-linejoin="miter"/>
<path d="M168.66,129.30L171.56,134.40L165.76,134.40Z" fill="#fff" stroke="#111" stroke-width="0.85" stroke-linejoin="miter"/>
<path d="M173.55,129.30L176.45,134.40L170.65,134.40Z" fill="#fff" stroke="#111" stroke-width="0.85" stroke-linejoin="miter"/>
<path d="M178.43,132.50L181.33,137.60L175.53,137.60Z" fill="#fff" stroke="#111" stroke-width="0.85" stroke-linejoin="miter"/>
<path d="M183.32,132.50L186.22,137.60L180.42,137.60Z" fill="#fff" stroke="#111" stroke-width="0.85" stroke-linejoin="miter"/>
<path d="M188.20,133.30L191.10,138.40L185.30,138.40Z" fill="#fff" stroke="#111" stroke-width="0.85" stroke-linejoin="miter"/>
<path d="M193.08,135.30L195.98,140.40L190.18,140.40Z" fill="#fff" stroke="#111" stroke-width="0.85" stroke-linejoin="miter"/>
<path d="M197.97,137.20L200.87,142.30L195.07,142.30Z" fill="#fff" stroke="#111" stroke-width="0.85" stroke-linejoin="miter"/>
<path d="M202.85,139.00L205.75,144.10L199.95,144.10Z" fill="#fff" stroke="#111" stroke-width="0.85" stroke-linejoin="miter"/>
<path d="M207.74,140.50L210.64,145.60L204.84,145.60Z" fill="#fff" stroke="#111" stroke-width="0.85" stroke-linejoin="miter"/>
<path d="M212.62,140.50L215.52,145.60L209.72,145.60Z" fill="#fff" stroke="#111" stroke-width="0.85" stroke-linejoin="miter"/>
<path d="M217.50,144.10L220.40,149.20L214.60,149.20Z" fill="#fff" stroke="#111" stroke-width="0.85" stroke-linejoin="miter"/>
<path d="M222.39,141.90L225.29,147.00L219.49,147.00Z" fill="#fff" stroke="#111" stroke-width="0.85" stroke-linejoin="miter"/>
<path d="M227.27,144.50L230.17,149.60L224.37,149.60Z" fill="#fff" stroke="#111" stroke-width="0.85" stroke-linejoin="miter"/>
<path d="M232.16,144.50L235.06,149.60L229.26,149.60Z" fill="#fff" stroke="#111" stroke-width="0.85" stroke-linejoin="miter"/>
<path d="M237.04,147.00L239.94,152.10L234.14,152.10Z" fill="#fff" stroke="#111" stroke-width="0.85" stroke-linejoin="miter"/>
<path d="M241.92,146.30L244.82,151.40L239.02,151.40Z" fill="#fff" stroke="#111" stroke-width="0.85" stroke-linejoin="miter"/>
<path d="M246.81,146.30L249.71,151.40L243.91,151.40Z" fill="#fff" stroke="#111" stroke-width="0.85" stroke-linejoin="miter"/>
<path d="M251.69,147.00L254.59,152.10L248.79,152.10Z" fill="#fff" stroke="#111" stroke-width="0.85" stroke-linejoin="miter"/>
<path d="M256.58,150.60L259.48,155.70L253.68,155.70Z" fill="#fff" stroke="#111" stroke-width="0.85" stroke-linejoin="miter"/>
<path d="M261.46,148.90L264.36,154.00L258.56,154.00Z" fill="#fff" stroke="#111" stroke-width="0.85" stroke-linejoin="miter"/>
<path d="M266.34,149.90L269.24,155.00L263.44,155.00Z" fill="#fff" stroke="#111" stroke-width="0.85" stroke-linejoin="miter"/>
<path d="M271.23,152.00L274.13,157.10L268.33,157.10Z" fill="#fff" stroke="#111" stroke-width="0.85" stroke-linejoin="miter"/>
<path d="M276.11,151.40L279.01,156.50L273.21,156.50Z" fill="#fff" stroke="#111" stroke-width="0.85" stroke-linejoin="miter"/>
<path d="M281.00,149.60L283.90,154.70L278.10,154.70Z" fill="#fff" stroke="#111" stroke-width="0.85" stroke-linejoin="miter"/>
<path d="M285.88,150.80L288.78,155.90L282.98,155.90Z" fill="#fff" stroke="#111" stroke-width="0.85" stroke-linejoin="miter"/>
<path d="M290.76,151.80L293.66,156.90L287.86,156.90Z" fill="#fff" stroke="#111" stroke-width="0.85" stroke-linejoin="miter"/>
<path d="M295.65,152.50L298.55,157.60L292.75,157.60Z" fill="#fff" stroke="#111" stroke-width="0.85" stroke-linejoin="miter"/>
<path d="M300.53,152.80L303.43,157.90L297.63,157.90Z" fill="#fff" stroke="#111" stroke-width="0.85" stroke-linejoin="miter"/>
<path d="M305.42,155.50L308.32,160.60L302.52,160.60Z" fill="#fff" stroke="#111" stroke-width="0.85" stroke-linejoin="miter"/>
<path d="M310.30,153.70L313.20,158.80L307.40,158.80Z" fill="#fff" stroke="#111" stroke-width="0.85" stroke-linejoin="miter"/>
<path d="M315.18,151.40L318.08,156.50L312.28,156.50Z" fill="#fff" stroke="#111" stroke-width="0.85" stroke-linejoin="miter"/>
<path d="M320.07,153.30L322.97,158.40L317.17,158.40Z" fill="#fff" stroke="#111" stroke-width="0.85" stroke-linejoin="miter"/>
<path d="M324.95,153.70L327.85,158.80L322.05,158.80Z" fill="#fff" stroke="#111" stroke-width="0.85" stroke-linejoin="miter"/>
<path d="M329.84,155.20L332.74,160.30L326.94,160.30Z" fill="#fff" stroke="#111" stroke-width="0.85" stroke-linejoin="miter"/>
<path d="M334.72,156.20L337.62,161.30L331.82,161.30Z" fill="#fff" stroke="#111" stroke-width="0.85" stroke-linejoin="miter"/>
<path d="M339.60,154.30L342.50,159.40L336.70,159.40Z" fill="#fff" stroke="#111" stroke-width="0.85" stroke-linejoin="miter"/>
<path d="M344.49,156.20L347.39,161.30L341.59,161.30Z" fill="#fff" stroke="#111" stroke-width="0.85" stroke-linejoin="miter"/>
<path d="M349.37,154.90L352.27,160.00L346.47,160.00Z" fill="#fff" stroke="#111" stroke-width="0.85" stroke-linejoin="miter"/>
<path d="M354.26,157.80L357.16,162.90L351.36,162.90Z" fill="#fff" stroke="#111" stroke-width="0.85" stroke-linejoin="miter"/>
<path d="M359.14,157.50L362.04,162.60L356.24,162.60Z" fill="#fff" stroke="#111" stroke-width="0.85" stroke-linejoin="miter"/>
<path d="M364.02,159.30L366.92,164.40L361.12,164.40Z" fill="#fff" stroke="#111" stroke-width="0.85" stroke-linejoin="miter"/>
<path d="M368.91,156.80L371.81,161.90L366.01,161.90Z" fill="#fff" stroke="#111" stroke-width="0.85" stroke-linejoin="miter"/>
<path d="M373.79,160.70L376.69,165.80L370.89,165.80Z" fill="#fff" stroke="#111" stroke-width="0.85" stroke-linejoin="miter"/>
<path d="M378.68,157.80L381.58,162.90L375.78,162.90Z" fill="#fff" stroke="#111" stroke-width="0.85" stroke-linejoin="miter"/>
<path d="M383.56,157.80L386.46,162.90L380.66,162.90Z" fill="#fff" stroke="#111" stroke-width="0.85" stroke-linejoin="miter"/>
<path d="M388.44,158.70L391.34,163.80L385.54,163.80Z" fill="#fff" stroke="#111" stroke-width="0.85" stroke-linejoin="miter"/>
<path d="M393.33,159.00L396.23,164.10L390.43,164.10Z" fill="#fff" stroke="#111" stroke-width="0.85" stroke-linejoin="miter"/>
<path d="M398.21,160.20L401.11,165.30L395.31,165.30Z" fill="#fff" stroke="#111" stroke-width="0.85" stroke-linejoin="miter"/>
<path d="M403.10,162.60L406.00,167.70L400.20,167.70Z" fill="#fff" stroke="#111" stroke-width="0.85" stroke-linejoin="miter"/>
<path d="M407.98,159.30L410.88,164.40L405.08,164.40Z" fill="#fff" stroke="#111" stroke-width="0.85" stroke-linejoin="miter"/>
<path d="M412.86,159.70L415.76,164.80L409.96,164.80Z" fill="#fff" stroke="#111" stroke-width="0.85" stroke-linejoin="miter"/>
<path d="M417.75,160.20L420.65,165.30L414.85,165.30Z" fill="#fff" stroke="#111" stroke-width="0.85" stroke-linejoin="miter"/>
<path d="M422.63,161.50L425.53,166.60L419.73,166.60Z" fill="#fff" stroke="#111" stroke-width="0.85" stroke-linejoin="miter"/>
<path d="M427.52,160.30L430.42,165.40L424.62,165.40Z" fill="#fff" stroke="#111" stroke-width="0.85" stroke-linejoin="miter"/>
<path d="M432.40,160.60L435.30,165.70L429.50,165.70Z" fill="#fff" stroke="#111" stroke-width="0.85" stroke-linejoin="miter"/>
<path d="M437.28,162.10L440.18,167.20L434.38,167.20Z" fill="#fff" stroke="#111" stroke-width="0.85" stroke-linejoin="miter"/>
<path d="M442.17,162.10L445.07,167.20L439.27,167.20Z" fill="#fff" stroke="#111" stroke-width="0.85" stroke-linejoin="miter"/>
<path d="M447.05,161.50L449.95,166.60L444.15,166.60Z" fill="#fff" stroke="#111" stroke-width="0.85" stroke-linejoin="miter"/>
<path d="M451.94,163.90L454.84,169.00L449.04,169.00Z" fill="#fff" stroke="#111" stroke-width="0.85" stroke-linejoin="miter"/>
<path d="M456.82,161.50L459.72,166.60L453.92,166.60Z" fill="#fff" stroke="#111" stroke-width="0.85" stroke-linejoin="miter"/>
<path d="M461.70,162.60L464.60,167.70L458.80,167.70Z" fill="#fff" stroke="#111" stroke-width="0.85" stroke-linejoin="miter"/>
<path d="M466.59,162.10L469.49,167.20L463.69,167.20Z" fill="#fff" stroke="#111" stroke-width="0.85" stroke-linejoin="miter"/>
<path d="M471.47,163.90L474.37,169.00L468.57,169.00Z" fill="#fff" stroke="#111" stroke-width="0.85" stroke-linejoin="miter"/>
<path d="M476.36,162.60L479.26,167.70L473.46,167.70Z" fill="#fff" stroke="#111" stroke-width="0.85" stroke-linejoin="miter"/>
<path d="M481.24,165.70L484.14,170.80L478.34,170.80Z" fill="#fff" stroke="#111" stroke-width="0.85" stroke-linejoin="miter"/>
<path d="M486.12,161.20L489.02,166.30L483.22,166.30Z" fill="#fff" stroke="#111" stroke-width="0.85" stroke-linejoin="miter"/>
<path d="M491.01,163.40L493.91,168.50L488.11,168.50Z" fill="#fff" stroke="#111" stroke-width="0.85" stroke-linejoin="miter"/>
<path d="M495.89,163.40L498.79,168.50L492.99,168.50Z" fill="#fff" stroke="#111" stroke-width="0.85" stroke-linejoin="miter"/>
<path d="M500.78,163.00L503.68,168.10L497.88,168.10Z" fill="#fff" stroke="#111" stroke-width="0.85" stroke-linejoin="miter"/>
<path d="M505.66,162.10L508.56,167.20L502.76,167.20Z" fill="#fff" stroke="#111" stroke-width="0.85" stroke-linejoin="miter"/>
<path d="M510.54,165.70L513.44,170.80L507.64,170.80Z" fill="#fff" stroke="#111" stroke-width="0.85" stroke-linejoin="miter"/>
<path d="M515.43,226.90L518.33,232.00L512.53,232.00Z" fill="#fff" stroke="#111" stroke-width="0.85" stroke-linejoin="miter"/>
<path d="M520.31,244.20L523.21,249.30L517.41,249.30Z" fill="#fff" stroke="#111" stroke-width="0.85" stroke-linejoin="miter"/>
<path d="M525.20,267.40L528.10,272.50L522.30,272.50Z" fill="#fff" stroke="#111" stroke-width="0.85" stroke-linejoin="miter"/>
<path d="M530.08,262.40L532.98,267.50L527.18,267.50Z" fill="#fff" stroke="#111" stroke-width="0.85" stroke-linejoin="miter"/>
<path d="M534.96,266.00L537.86,271.10L532.06,271.10Z" fill="#fff" stroke="#111" stroke-width="0.85" stroke-linejoin="miter"/>
<circle cx="129.59" cy="314.00" r="2.4" fill="#fff" stroke="#111" stroke-width="0.95"/>
<circle cx="134.48" cy="240.20" r="2.4" fill="#fff" stroke="#111" stroke-width="0.95"/>
<circle cx="139.36" cy="223.30" r="2.4" fill="#fff" stroke="#111" stroke-width="0.95"/>
<circle cx="144.24" cy="216.40" r="2.4" fill="#fff" stroke="#111" stroke-width="0.95"/>
<circle cx="149.13" cy="210.70" r="2.4" fill="#fff" stroke="#111" stroke-width="0.95"/>
<circle cx="154.01" cy="213.10" r="2.4" fill="#fff" stroke="#111" stroke-width="0.95"/>
<circle cx="158.90" cy="216.70" r="2.4" fill="#fff" stroke="#111" stroke-width="0.95"/>
<circle cx="163.78" cy="215.80" r="2.4" fill="#fff" stroke="#111" stroke-width="0.95"/>
<circle cx="168.66" cy="219.10" r="2.4" fill="#fff" stroke="#111" stroke-width="0.95"/>
<circle cx="173.55" cy="215.50" r="2.4" fill="#fff" stroke="#111" stroke-width="0.95"/>
<circle cx="178.43" cy="216.50" r="2.4" fill="#fff" stroke="#111" stroke-width="0.95"/>
<circle cx="183.32" cy="217.80" r="2.4" fill="#fff" stroke="#111" stroke-width="0.95"/>
<circle cx="188.20" cy="226.10" r="2.4" fill="#fff" stroke="#111" stroke-width="0.95"/>
<circle cx="193.08" cy="220.40" r="2.4" fill="#fff" stroke="#111" stroke-width="0.95"/>
<circle cx="197.97" cy="224.80" r="2.4" fill="#fff" stroke="#111" stroke-width="0.95"/>
<circle cx="202.85" cy="233.10" r="2.4" fill="#fff" stroke="#111" stroke-width="0.95"/>
<circle cx="207.74" cy="235.40" r="2.4" fill="#fff" stroke="#111" stroke-width="0.95"/>
<circle cx="212.62" cy="230.50" r="2.4" fill="#fff" stroke="#111" stroke-width="0.95"/>
<circle cx="217.50" cy="235.90" r="2.4" fill="#fff" stroke="#111" stroke-width="0.95"/>
<circle cx="222.39" cy="233.10" r="2.4" fill="#fff" stroke="#111" stroke-width="0.95"/>
<circle cx="227.27" cy="232.80" r="2.4" fill="#fff" stroke="#111" stroke-width="0.95"/>
<circle cx="232.16" cy="240.60" r="2.4" fill="#fff" stroke="#111" stroke-width="0.95"/>
<circle cx="237.04" cy="240.10" r="2.4" fill="#fff" stroke="#111" stroke-width="0.95"/>
<circle cx="241.92" cy="239.70" r="2.4" fill="#fff" stroke="#111" stroke-width="0.95"/>
<circle cx="246.81" cy="242.30" r="2.4" fill="#fff" stroke="#111" stroke-width="0.95"/>
<circle cx="251.69" cy="242.30" r="2.4" fill="#fff" stroke="#111" stroke-width="0.95"/>
<circle cx="256.58" cy="245.50" r="2.4" fill="#fff" stroke="#111" stroke-width="0.95"/>
<circle cx="261.46" cy="244.20" r="2.4" fill="#fff" stroke="#111" stroke-width="0.95"/>
<circle cx="266.34" cy="244.40" r="2.4" fill="#fff" stroke="#111" stroke-width="0.95"/>
<circle cx="271.23" cy="252.10" r="2.4" fill="#fff" stroke="#111" stroke-width="0.95"/>
<circle cx="276.11" cy="253.70" r="2.4" fill="#fff" stroke="#111" stroke-width="0.95"/>
<circle cx="281.00" cy="255.00" r="2.4" fill="#fff" stroke="#111" stroke-width="0.95"/>
<circle cx="285.88" cy="248.30" r="2.4" fill="#fff" stroke="#111" stroke-width="0.95"/>
<circle cx="290.76" cy="255.40" r="2.4" fill="#fff" stroke="#111" stroke-width="0.95"/>
<circle cx="295.65" cy="254.80" r="2.4" fill="#fff" stroke="#111" stroke-width="0.95"/>
<circle cx="300.53" cy="256.70" r="2.4" fill="#fff" stroke="#111" stroke-width="0.95"/>
<circle cx="305.42" cy="254.40" r="2.4" fill="#fff" stroke="#111" stroke-width="0.95"/>
<circle cx="310.30" cy="259.30" r="2.4" fill="#fff" stroke="#111" stroke-width="0.95"/>
<circle cx="315.18" cy="262.20" r="2.4" fill="#fff" stroke="#111" stroke-width="0.95"/>
<circle cx="320.07" cy="263.30" r="2.4" fill="#fff" stroke="#111" stroke-width="0.95"/>
<circle cx="324.95" cy="262.80" r="2.4" fill="#fff" stroke="#111" stroke-width="0.95"/>
<circle cx="329.84" cy="267.80" r="2.4" fill="#fff" stroke="#111" stroke-width="0.95"/>
<circle cx="334.72" cy="261.20" r="2.4" fill="#fff" stroke="#111" stroke-width="0.95"/>
<circle cx="339.60" cy="274.80" r="2.4" fill="#fff" stroke="#111" stroke-width="0.95"/>
<circle cx="344.49" cy="272.40" r="2.4" fill="#fff" stroke="#111" stroke-width="0.95"/>
<circle cx="349.37" cy="274.80" r="2.4" fill="#fff" stroke="#111" stroke-width="0.95"/>
<circle cx="354.26" cy="268.00" r="2.4" fill="#fff" stroke="#111" stroke-width="0.95"/>
<circle cx="359.14" cy="271.20" r="2.4" fill="#fff" stroke="#111" stroke-width="0.95"/>
<circle cx="364.02" cy="291.00" r="2.4" fill="#fff" stroke="#111" stroke-width="0.95"/>
<circle cx="368.91" cy="270.10" r="2.4" fill="#fff" stroke="#111" stroke-width="0.95"/>
<circle cx="373.79" cy="273.50" r="2.4" fill="#fff" stroke="#111" stroke-width="0.95"/>
<circle cx="378.68" cy="271.00" r="2.4" fill="#fff" stroke="#111" stroke-width="0.95"/>
<circle cx="383.56" cy="273.30" r="2.4" fill="#fff" stroke="#111" stroke-width="0.95"/>
<circle cx="388.44" cy="283.50" r="2.4" fill="#fff" stroke="#111" stroke-width="0.95"/>
<circle cx="393.33" cy="292.30" r="2.4" fill="#fff" stroke="#111" stroke-width="0.95"/>
<circle cx="398.21" cy="280.30" r="2.4" fill="#fff" stroke="#111" stroke-width="0.95"/>
<circle cx="403.10" cy="296.00" r="2.4" fill="#fff" stroke="#111" stroke-width="0.95"/>
<circle cx="407.98" cy="283.40" r="2.4" fill="#fff" stroke="#111" stroke-width="0.95"/>
<circle cx="412.86" cy="286.50" r="2.4" fill="#fff" stroke="#111" stroke-width="0.95"/>
<circle cx="417.75" cy="290.80" r="2.4" fill="#fff" stroke="#111" stroke-width="0.95"/>
<circle cx="422.63" cy="290.70" r="2.4" fill="#fff" stroke="#111" stroke-width="0.95"/>
<circle cx="427.52" cy="300.60" r="2.4" fill="#fff" stroke="#111" stroke-width="0.95"/>
<circle cx="432.40" cy="283.70" r="2.4" fill="#fff" stroke="#111" stroke-width="0.95"/>
<circle cx="437.28" cy="289.70" r="2.4" fill="#fff" stroke="#111" stroke-width="0.95"/>
<circle cx="442.17" cy="294.80" r="2.4" fill="#fff" stroke="#111" stroke-width="0.95"/>
<circle cx="447.05" cy="297.70" r="2.4" fill="#fff" stroke="#111" stroke-width="0.95"/>
<circle cx="451.94" cy="288.60" r="2.4" fill="#fff" stroke="#111" stroke-width="0.95"/>
<circle cx="456.82" cy="294.60" r="2.4" fill="#fff" stroke="#111" stroke-width="0.95"/>
<circle cx="461.70" cy="309.00" r="2.4" fill="#fff" stroke="#111" stroke-width="0.95"/>
<circle cx="466.59" cy="301.60" r="2.4" fill="#fff" stroke="#111" stroke-width="0.95"/>
<circle cx="471.47" cy="316.00" r="2.4" fill="#fff" stroke="#111" stroke-width="0.95"/>
<circle cx="476.36" cy="296.10" r="2.4" fill="#fff" stroke="#111" stroke-width="0.95"/>
<circle cx="481.24" cy="286.20" r="2.4" fill="#fff" stroke="#111" stroke-width="0.95"/>
<circle cx="486.12" cy="300.60" r="2.4" fill="#fff" stroke="#111" stroke-width="0.95"/>
<circle cx="491.01" cy="314.00" r="2.4" fill="#fff" stroke="#111" stroke-width="0.95"/>
<circle cx="495.89" cy="300.50" r="2.4" fill="#fff" stroke="#111" stroke-width="0.95"/>
<circle cx="500.78" cy="298.80" r="2.4" fill="#fff" stroke="#111" stroke-width="0.95"/>
<circle cx="505.66" cy="298.00" r="2.4" fill="#fff" stroke="#111" stroke-width="0.95"/>
<circle cx="510.54" cy="309.40" r="2.4" fill="#fff" stroke="#111" stroke-width="0.95"/></g>
<path d="M66.2,12.3H535.3M66.2,353.5H535.3M66.2,11.65V354.15M535.3,11.65V354.15" fill="none" stroke="#000" stroke-width="1.3"/>
<path d="M66.10,353.5v6.5M71.96,353.5v3M77.82,353.5v3M83.68,353.5v3M89.54,353.5v3M95.41,353.5v6.5M101.27,353.5v3M107.13,353.5v3M112.99,353.5v3M118.85,353.5v3M124.71,353.5v6.5M130.57,353.5v3M136.44,353.5v3M142.30,353.5v3M148.16,353.5v3M154.02,353.5v6.5M159.88,353.5v3M165.74,353.5v3M171.60,353.5v3M177.46,353.5v3M183.32,353.5v6.5M189.19,353.5v3M195.05,353.5v3M200.91,353.5v3M206.77,353.5v3M212.63,353.5v6.5M218.49,353.5v3M224.35,353.5v3M230.22,353.5v3M236.08,353.5v3M241.94,353.5v6.5M247.80,353.5v3M253.66,353.5v3M259.52,353.5v3M265.38,353.5v3M271.24,353.5v6.5M277.11,353.5v3M282.97,353.5v3M288.83,353.5v3M294.69,353.5v3M300.55,353.5v6.5M306.41,353.5v3M312.27,353.5v3M318.13,353.5v3M324.00,353.5v3M329.86,353.5v6.5M335.72,353.5v3M341.58,353.5v3M347.44,353.5v3M353.30,353.5v3M359.16,353.5v6.5M365.02,353.5v3M370.88,353.5v3M376.75,353.5v3M382.61,353.5v3M388.47,353.5v6.5M394.33,353.5v3M400.19,353.5v3M406.05,353.5v3M411.91,353.5v3M417.77,353.5v6.5M423.64,353.5v3M429.50,353.5v3M435.36,353.5v3M441.22,353.5v3M447.08,353.5v6.5M452.94,353.5v3M458.80,353.5v3M464.66,353.5v3M470.53,353.5v3M476.39,353.5v6.5M482.25,353.5v3M488.11,353.5v3M493.97,353.5v3M499.83,353.5v3M505.69,353.5v6.5M511.55,353.5v3M517.42,353.5v3M523.28,353.5v3M529.14,353.5v3M535.00,353.5v6.5" stroke="#000" stroke-width="1.35" fill="none"/>
<path d="M66.2,353.11h-4M66.2,346.69h-4M66.2,341.26h-4M66.2,336.56h-4M66.2,332.41h-4M66.2,328.70h-7M66.2,304.29h-4M66.2,290.01h-4M66.2,279.87h-4M66.2,272.01h-4M66.2,265.59h-4M66.2,260.16h-4M66.2,255.46h-4M66.2,251.31h-4M66.2,247.60h-7M66.2,223.19h-4M66.2,208.91h-4M66.2,198.77h-4M66.2,190.91h-4M66.2,184.49h-4M66.2,179.06h-4M66.2,174.36h-4M66.2,170.21h-4M66.2,166.50h-7M66.2,142.09h-4M66.2,127.81h-4M66.2,117.67h-4M66.2,109.81h-4M66.2,103.39h-4M66.2,97.96h-4M66.2,93.26h-4M66.2,89.11h-4M66.2,85.40h-7M66.2,60.99h-4M66.2,46.71h-4M66.2,36.57h-4M66.2,28.71h-4M66.2,22.29h-4M66.2,16.86h-4M66.2,12.16h-4" stroke="#000" stroke-width="1.35" fill="none"/>
<text x="66.10" y="376.5" font-size="15.6" text-anchor="middle" font-family='"Liberation Sans", sans-serif' stroke="#000" stroke-width="0.3">0</text>
<text x="95.41" y="376.5" font-size="15.6" text-anchor="middle" font-family='"Liberation Sans", sans-serif' stroke="#000" stroke-width="0.3">5</text>
<text x="124.71" y="376.5" font-size="15.6" text-anchor="middle" font-family='"Liberation Sans", sans-serif' stroke="#000" stroke-width="0.3">10</text>
<text x="154.02" y="376.5" font-size="15.6" text-anchor="middle" font-family='"Liberation Sans", sans-serif' stroke="#000" stroke-width="0.3">15</text>
<text x="183.32" y="376.5" font-size="15.6" text-anchor="middle" font-family='"Liberation Sans", sans-serif' stroke="#000" stroke-width="0.3">20</text>
<text x="212.63" y="376.5" font-size="15.6" text-anchor="middle" font-family='"Liberation Sans", sans-serif' stroke="#000" stroke-width="0.3">25</text>
<text x="241.94" y="376.5" font-size="15.6" text-anchor="middle" font-family='"Liberation Sans", sans-serif' stroke="#000" stroke-width="0.3">30</text>
<text x="271.24" y="376.5" font-size="15.6" text-anchor="middle" font-family='"Liberation Sans", sans-serif' stroke="#000" stroke-width="0.3">35</text>
<text x="300.55" y="376.5" font-size="15.6" text-anchor="middle" font-family='"Liberation Sans", sans-serif' stroke="#000" stroke-width="0.3">40</text>
<text x="329.86" y="376.5" font-size="15.6" text-anchor="middle" font-family='"Liberation Sans", sans-serif' stroke="#000" stroke-width="0.3">45</text>
<text x="359.16" y="376.5" font-size="15.6" text-anchor="middle" font-family='"Liberation Sans", sans-serif' stroke="#000" stroke-width="0.3">50</text>
<text x="388.47" y="376.5" font-size="15.6" text-anchor="middle" font-family='"Liberation Sans", sans-serif' stroke="#000" stroke-width="0.3">55</text>
<text x="417.77" y="376.5" font-size="15.6" text-anchor="middle" font-family='"Liberation Sans", sans-serif' stroke="#000" stroke-width="0.3">60</text>
<text x="447.08" y="376.5" font-size="15.6" text-anchor="middle" font-family='"Liberation Sans", sans-serif' stroke="#000" stroke-width="0.3">65</text>
<text x="476.39" y="376.5" font-size="15.6" text-anchor="middle" font-family='"Liberation Sans", sans-serif' stroke="#000" stroke-width="0.3">70</text>
<text x="505.69" y="376.5" font-size="15.6" text-anchor="middle" font-family='"Liberation Sans", sans-serif' stroke="#000" stroke-width="0.3">75</text>
<text x="535.00" y="376.5" font-size="15.6" text-anchor="middle" font-family='"Liberation Sans", sans-serif' stroke="#000" stroke-width="0.3">80</text>
<text x="49.7" y="335.10" font-size="15.6" text-anchor="end" font-family='"Liberation Sans", sans-serif' stroke="#000" stroke-width="0.3">10</text>
<text x="50.4" y="326.10" font-size="9.6" font-family='"Liberation Sans", sans-serif' stroke="#000" stroke-width="0.2">2</text>
<text x="49.7" y="254.00" font-size="15.6" text-anchor="end" font-family='"Liberation Sans", sans-serif' stroke="#000" stroke-width="0.3">10</text>
<text x="50.4" y="245.00" font-size="9.6" font-family='"Liberation Sans", sans-serif' stroke="#000" stroke-width="0.2">3</text>
<text x="49.7" y="172.90" font-size="15.6" text-anchor="end" font-family='"Liberation Sans", sans-serif' stroke="#000" stroke-width="0.3">10</text>
<text x="50.4" y="163.90" font-size="9.6" font-family='"Liberation Sans", sans-serif' stroke="#000" stroke-width="0.2">4</text>
<text x="49.7" y="91.80" font-size="15.6" text-anchor="end" font-family='"Liberation Sans", sans-serif' stroke="#000" stroke-width="0.3">10</text>
<text x="50.4" y="82.80" font-size="9.6" font-family='"Liberation Sans", sans-serif' stroke="#000" stroke-width="0.2">5</text>
<text x="300.8" y="405.6" font-size="17.5" text-anchor="middle" font-family='"Liberation Sans", sans-serif' stroke="#000" stroke-width="0.3">Time (min)</text>
<text transform="translate(19.2,177.4) rotate(-90)" font-size="17.5" text-anchor="middle" font-family='"Liberation Sans", sans-serif' stroke="#000" stroke-width="0.3">Intensity (cps)</text>
<text x="168" y="95" font-size="14.5" fill="#8a1729" stroke="#8a1729" stroke-width="0.25" font-family='"Liberation Sans", sans-serif'>sample introduced in the vessel</text>
<text x="192.4" y="186.8" font-size="14.5" fill="#8a1729" stroke="#8a1729" stroke-width="0.25" font-family='"Liberation Sans", sans-serif'>smashing the berry</text>
<line x1="164.4" y1="93.8" x2="116.98" y2="112.91" stroke="#931624" stroke-width="1.4"/><path d="M109.8,115.8L116.84,110.27L118.71,114.90Z" fill="#931624" stroke="#931624" stroke-width="0.4" stroke-linejoin="round"/>
<line x1="188.8" y1="183.6" x2="134.98" y2="207.37" stroke="#931624" stroke-width="1.4"/><path d="M127.9,210.5L134.76,204.74L136.78,209.31Z" fill="#931624" stroke="#931624" stroke-width="0.4" stroke-linejoin="round"/>
<text transform="translate(85.2,208.6) rotate(-90)" font-size="14.3" fill="#6a8a8a" font-family='"Liberation Sans", sans-serif'>background</text>
<line x1="147.7" y1="23.7" x2="179.7" y2="23.7" stroke="#8aa1a1" stroke-width="1.5"/>
<circle cx="163.8" cy="23.7" r="2.0" fill="#487272"/>
<text x="184.5" y="28.3" font-size="14.45" font-family='"Liberation Sans", sans-serif' stroke="#000" stroke-width="0.22">methanol</text>
<line x1="147.7" y1="41.7" x2="179.7" y2="41.7" stroke="#000" stroke-width="1.2"/>
<circle cx="163.8" cy="41.7" r="2.5" fill="#fff" stroke="#000" stroke-width="1"/>
<text x="184.5" y="46.2" font-size="14.45" font-family='"Liberation Sans", sans-serif' stroke="#000" stroke-width="0.22">hexenals</text>
<line x1="263.9" y1="23.7" x2="296.3" y2="23.7" stroke="#000" stroke-width="1.3"/>
<path d="M280.20,20.41L283.20,25.69L277.20,25.69Z" fill="#fff" stroke="#000" stroke-width="1" stroke-linejoin="miter"/>
<text x="300.7" y="28.3" font-size="14.45" font-family='"Liberation Sans", sans-serif' stroke="#000" stroke-width="0.22">acetate esters</text>
<line x1="267.4" y1="41.7" x2="299.1" y2="41.7" stroke="#98adad" stroke-width="1.3"/>
<path d="M280.30,41.70L286.30,41.70M281.18,39.58L285.42,43.82M283.30,38.70L283.30,44.70M285.42,39.58L281.18,43.82" stroke="#6e9090" stroke-width="0.8" fill="none"/>
<text x="304.5" y="46.2" font-size="14.45" font-family='"Liberation Sans", sans-serif' stroke="#000" stroke-width="0.22"><tspan font-style="italic">cis</tspan>-3-hexenol</text>
<line x1="406.4" y1="41.6" x2="438.9" y2="41.6" stroke="#000" stroke-width="1.2"/>
<path d="M422.30,39.06L424.80,43.46L419.80,43.46Z" fill="#000" stroke="#000" stroke-width="0.5" stroke-linejoin="miter"/>
<text x="443.5" y="46.2" font-size="14.45" font-family='"Liberation Sans", sans-serif' stroke="#000" stroke-width="0.22">C5-VOCs</text>
</svg>
</body></html>
